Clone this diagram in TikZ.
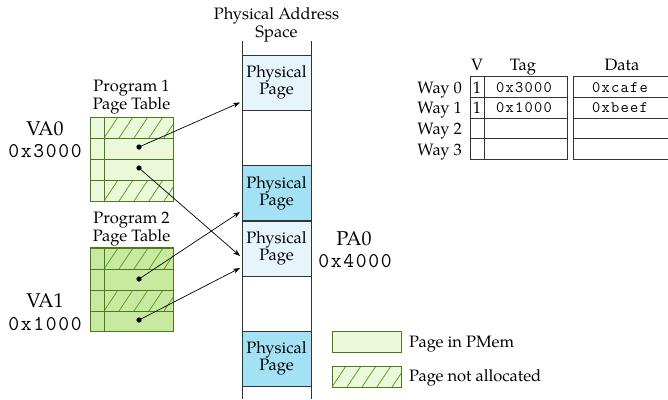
\documentclass[tikz,border=0pt]{standalone}
\usepackage{fontspec}
\setmainfont{TeX Gyre Pagella}
\setmonofont{Latin Modern Mono}[LetterSpace=8]
\usetikzlibrary{arrows.meta,calc}
\definecolor{ptlight}{HTML}{EBF8D9}
\definecolor{ptdark}{HTML}{C8EAA0}
\definecolor{ptline}{HTML}{4A7A1A}
\definecolor{hatchc}{HTML}{5C9E22}
\definecolor{pplight}{HTML}{E6F5FC}
\definecolor{ppdark}{HTML}{A2E2F4}
\definecolor{gridc}{HTML}{333333}
\newcommand\hatchcell[4]{%
  \begin{scope}
    \clip (#1,#2) rectangle (#3,#4);
    \foreach \k in {-30,-15,...,90}{\draw[hatchline] (#1+\k,#4) -- ++(14,-21);}
  \end{scope}}
\tikzset{
  txt/.style={font=\fontsize{16.5bp}{15.5bp}\selectfont, inner sep=0, anchor=base},
  big/.style={font=\fontsize{20bp}{20bp}\selectfont, inner sep=0, anchor=base},
  bigmono/.style={font=\fontsize{21bp}{21bp}\ttfamily, inner sep=0, anchor=base},
  mono/.style={font=\fontsize{16bp}{16bp}\ttfamily, inner sep=0, anchor=base},
  lbl/.style={font=\fontsize{16.5bp}{15.5bp}\selectfont, inner sep=0, align=center},
  ppage/.style={draw=gridc, line width=0.9bp, minimum width=69bp, minimum height=55bp, inner sep=0,
    align=center, font=\fontsize{16.5bp}{15.5bp}\selectfont},
  ptbox/.style={draw=ptline, line width=0.9bp, minimum width=83bp, minimum height=84bp, inner sep=0},
  ptgrid/.style={draw=ptline, line width=0.9bp},
  hatchline/.style={draw=hatchc, line width=0.8bp},
  arr/.style={-{Stealth[length=7bp,width=5bp]}, line width=0.7bp, black},
  cgrid/.style={draw=gridc, line width=0.9bp},
}
\begin{document}
\begin{tikzpicture}[x=1bp,y=-1bp]
\clip (0,0) rectangle (668,399);
\fill[white] (0,0) rectangle (668,399);

% Physical address space
\node[lbl] (pastitle) at (276.5,25) {Physical Address\\Space};
\draw[cgrid] (242,41) -- (242,399);
\draw[cgrid] (311,41) -- (311,399);
\node[ppage, fill=pplight] (pp1) at (276.5,82.5) {Physical\\Page};
\node[ppage, fill=ppdark] (pp2) at (276.5,193) {Physical\\Page};
\node[ppage, fill=pplight] (pp3) at (276.5,248.5) {Physical\\Page};
\node[ppage, fill=ppdark] (pp4) at (276.5,358.5) {Physical\\Page};

% Program 1 page table
\node[lbl] (pt1title) at (131.5,97) {Program 1\\Page Table};
\node[ptbox, fill=ptlight] (pt1) at (131.5,159) {};
\hatchcell{104}{117}{173}{138}
\hatchcell{104}{180}{173}{201}
\draw[ptgrid] (104,117) -- (104,201);
\foreach \yy in {138,159,180} \draw[ptgrid] (90,\yy) -- (173,\yy);
\draw[ptgrid] (90,117) rectangle (173,201);
\node[big] (va0) at (45,135) {VA0};
\node[bigmono] (va0hex) at (45,157) {0x3000};

% Program 2 page table
\node[lbl] (pt2title) at (131.5,229) {Program 2\\Page Table};
\node[ptbox, fill=ptdark] (pt2) at (131.5,289.5) {};
\hatchcell{104}{248}{173}{269}
\hatchcell{104}{290}{173}{311}
\draw[ptgrid] (104,248) -- (104,331);
\foreach \yy in {269,290,311} \draw[ptgrid] (90,\yy) -- (173,\yy);
\draw[ptgrid] (90,248) rectangle (173,331);
\node[big] (va1) at (45,307) {VA1};
\node[bigmono] (va1hex) at (45,330) {0x1000};

% PA0
\node[big] (pa0) at (354,245) {PA0};
\node[bigmono] (pa0hex) at (355,267) {0x4000};

% dots and arrows
\coordinate (d1) at (139,147);
\coordinate (d2) at (139,168);
\coordinate (d3) at (139,279);
\coordinate (d4) at (139,320);
\coordinate (t1) at ($(pp1.west)+(-1.5,20)$);
\coordinate (t2) at ($(pp3.west)+(-1.5,7.5)$);
\coordinate (t3) at ($(pp2.west)+(-1.5,19)$);
\coordinate (t4) at ($(pp3.west)+(-1.5,19.5)$);
\foreach \d in {d1,d2,d3,d4} \fill (\d) circle (2.6);
\draw[arr] (d1) -- (t1);
\draw[arr] (d2) -- (t2);
\draw[arr] (d3) -- (t3);
\draw[arr] (d4) -- (t4);

% Cache table
\node[txt, anchor=base] (hv) at (477,70) {V};
\node[txt, anchor=base] (htag) at (523,70) {Tag};
\node[txt, anchor=base] (hdata) at (622,70) {Data};
\draw[cgrid] (470,76) rectangle (567,159);
\draw[cgrid] (484,76) -- (484,159);
\foreach \yy in {97,118,138} \draw[cgrid] (470,\yy) -- (567,\yy);
\draw[cgrid] (680,76) -- (573,76) -- (573,159) -- (680,159);
\foreach \yy in {97,118,138} \draw[cgrid] (573,\yy) -- (680,\yy);
\node[txt, anchor=base east] (w0) at (462,93) {Way 0};
\node[txt, anchor=base east] (w1) at (462,113) {Way 1};
\node[txt, anchor=base east] (w2) at (462,134) {Way 2};
\node[txt, anchor=base east] (w3) at (462,155) {Way 3};
\node[txt] (v0) at (477,93) {1};
\node[txt] (v1) at (477,113) {1};
\node[mono] (tag0) at (524,92) {0x3000};
\node[mono] (tag1) at (524,112) {0x1000};
\node[mono] (dat0) at (620,92) {0xcafe};
\node[mono] (dat1) at (620,112) {0xbeef};

% Legend
\node[draw=ptline, line width=0.9bp, fill=ptlight, minimum width=69bp, minimum height=21bp, inner sep=0] (leg1) at (366.5,341.5) {};
\node[draw=ptline, line width=0.9bp, fill=ptlight, minimum width=69bp, minimum height=21bp, inner sep=0] (leg2) at (366.5,376.5) {};
\hatchcell{332}{366}{401}{387}
\draw[ptgrid] (332,366) rectangle (401,387);
\node[txt, anchor=base west] (leg1t) at (409,347) {Page in PMem};
\node[txt, anchor=base west] (leg2t) at (409,381) {Page not allocated};
\end{tikzpicture}
\end{document}
